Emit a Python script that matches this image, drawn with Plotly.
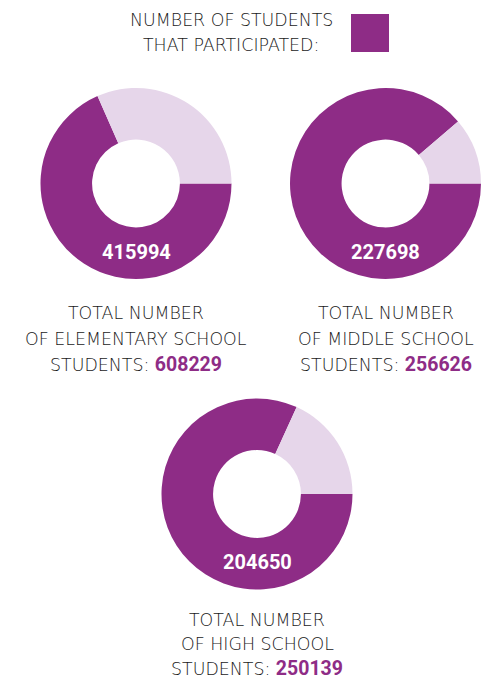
import plotly.graph_objects as go

# Data
groups = ["ELEMENTARY SCHOOL", "MIDDLE SCHOOL", "HIGH SCHOOL"]
participated = [415994, 227698, 204650]
totals = [608229, 256626, 250139]
slice_labels = ["Participated", "Did not participate"]
legend_lines = ["NUMBER OF STUDENTS", "THAT PARTICIPATED:"]

PURPLE = "#8E2C86"
LIGHT = "#E6D6EA"
TEXT = "#1a1a1a"
W, H = 491, 681
CAP_FONT = dict(family="DejaVu Sans", size=17.4, color=TEXT, weight=200)

# pixel layout: donut centre x, centre y, caption first-line y, caption line step
centres = [(136, 183.5), (385.5, 183.5), (257, 494)]
caption_y = [313, 313, 620]
caption_step = [25.5, 25.5, 24]
R = 95.5


def py(y):
    return 1 - y / H


fig = go.Figure()
for i, (g, p, t) in enumerate(zip(groups, participated, totals)):
    cx, cy = centres[i]
    fig.add_trace(go.Pie(
        labels=slice_labels,
        values=[p, t - p],
        hole=0.46,
        sort=False,
        direction="clockwise",
        rotation=90,
        marker=dict(colors=[PURPLE, LIGHT], line=dict(width=0)),
        textinfo="none",
        hoverinfo="label+value",
        showlegend=False,
        domain=dict(x=[(cx - R) / W, (cx + R) / W], y=[py(cy + R), py(cy - R)]),
    ))
    # value inside the donut
    fig.add_annotation(
        x=cx / W, y=py(cy + 68), xref="paper", yref="paper",
        text=f"<b>{p}</b>", showarrow=False,
        font=dict(family="Roboto", size=20, color="white"),
        xanchor="center", yanchor="middle",
    )
    # caption under the donut (one annotation per line)
    lines = ["TOTAL NUMBER", f"OF {g}",
             f"STUDENTS: <span style='color:{PURPLE};font-family:Roboto;font-size:19.5px;font-weight:700'>{t}</span>"]
    for k, ln in enumerate(lines):
        fig.add_annotation(
            x=cx / W, y=py(caption_y[i] + k * caption_step[i]), xref="paper", yref="paper",
            text=ln, showarrow=False, font=CAP_FONT, borderpad=0,
            xanchor="center", yanchor="middle",
        )

# legend
for k, ln in enumerate(legend_lines):
    fig.add_annotation(
        x=231 / W, y=py(20 + k * 25), xref="paper", yref="paper",
        text=ln, showarrow=False, font=CAP_FONT,
        xanchor="center", yanchor="middle",
    )
fig.add_shape(
    type="rect", xref="paper", yref="paper",
    x0=351 / W, x1=389 / W, y0=py(52), y1=py(14),
    fillcolor=PURPLE, line=dict(width=0),
)

fig.update_layout(
    width=W, height=H,
    margin=dict(l=0, r=0, t=0, b=0),
    paper_bgcolor="white", plot_bgcolor="white",
)
fig.write_html("out.html", config={"displayModeBar": False},
               post_script="document.body.style.margin='0';")
